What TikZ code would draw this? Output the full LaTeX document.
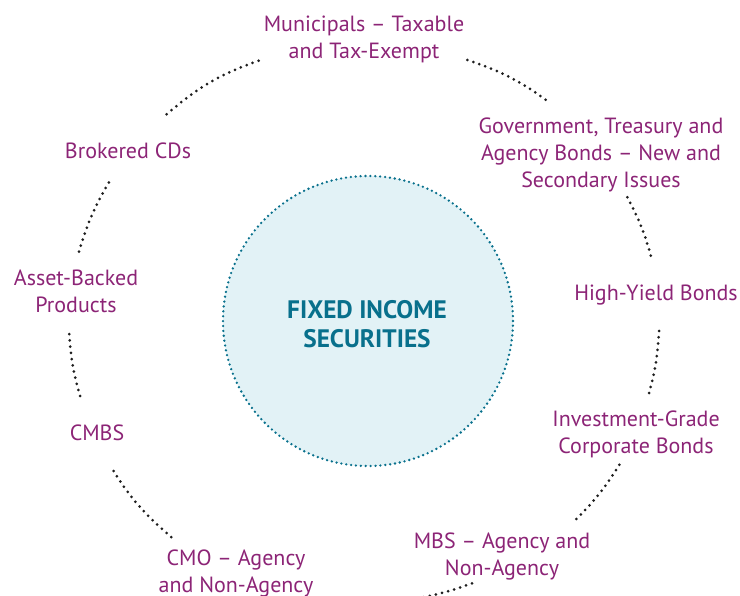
\documentclass[tikz,border=0pt]{standalone}
\usepackage{fontspec}
\setmainfont{PT Sans}
\definecolor{labelc}{RGB}{140,36,118}
\definecolor{tealc}{RGB}{8,112,140}
\definecolor{fillc}{RGB}{226,242,246}
\definecolor{dotc}{RGB}{30,30,30}
\begin{document}
\begin{tikzpicture}[x=1pt,y=-1pt,
  lab/.style={text=labelc,align=center,inner sep=0pt,font=\fontsize{22}{27}\selectfont},
  ring/.style={draw=dotc,line width=3pt,line cap=round,dash pattern=on 0pt off 6.3pt},
  hub/.style={circle,minimum size=290pt,inner sep=0pt,fill=fillc,draw=tealc,line width=2.6pt,line cap=round,dash pattern=on 0pt off 4.9pt}]
\useasboundingbox (0,0) rectangle (740,596);
\clip (0,0) rectangle (740,596);
\node[hub] (hub) at (368,321) {};
\node[text=tealc,align=center,font=\bfseries\fontsize{25.3}{29}\selectfont] (title) at (367,324) {FIXED INCOME\\SECURITIES};
\node[lab] (muni) at (364,39.5) {Municipals -- Taxable\\and Tax-Exempt};
\node[lab] (gov) at (601,154.5) {Government, Treasury and\\Agency Bonds -- New and\\Secondary Issues};
\node[lab] (hy) at (656,295) {High-Yield Bonds};
\node[lab] (ig) at (636,434.5) {Investment-Grade\\Corporate Bonds};
\node[lab] (mbs) at (502,556) {MBS -- Agency and\\Non-Agency};
\node[lab] (cmo) at (236,573.5) {CMO -- Agency\\and Non-Agency};
\node[lab] (cmbs) at (97,433) {CMBS};
\node[lab] (abs) at (76,291) {Asset-Backed\\Products};
\node[lab] (cds) at (128,151) {Brokered CDs};
\coordinate (a1) at (166.7,114.3); \coordinate (a2) at (262.7,59.3);
\coordinate (b1) at (467.3,60);    \coordinate (b2) at (548.3,101.7);
\coordinate (c1) at (627.3,197.3); \coordinate (c2) at (651.7,259);
\coordinate (d1) at (659,331);     \coordinate (d2) at (649,393.3);
\coordinate (e1) at (619.3,464.8); \coordinate (e2) at (576.2,519.2);
\coordinate (f1) at (472,583.3);   \coordinate (f2) at (400,601);
\coordinate (g1) at (171.3,537.1); \coordinate (g2) at (110.3,465.8);
\coordinate (h1) at (80,396);      \coordinate (h2) at (69,328.3);
\coordinate (i1) at (79,251.7);    \coordinate (i2) at (109.3,181.7);
\draw[ring] (a1) to[bend left=11] (a2);
\draw[ring] (b1) to[bend left=9] (b2);
\draw[ring] (c1) to[bend left=6.5] (c2);
\draw[ring] (d1) to[bend left=6] (d2);
\draw[ring] (e1) to[bend left=6.5] (e2);
\draw[ring] (f1) to[bend left=6] (f2);
\draw[ring] (g1) to[bend left=9] (g2);
\draw[ring] (h1) to[bend left=6.5] (h2);
\draw[ring] (i1) to[bend left=7] (i2);
\end{tikzpicture}
\end{document}
